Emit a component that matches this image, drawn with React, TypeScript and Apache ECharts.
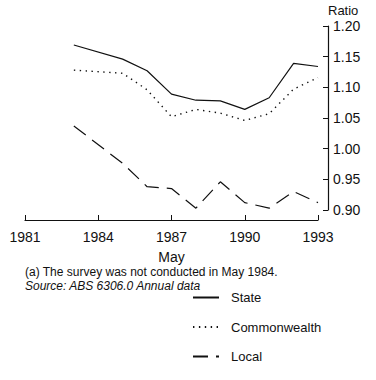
import React, { useEffect, useRef } from "react";
import * as echarts from "echarts";

const years = [1983, 1985, 1986, 1987, 1988, 1989, 1990, 1991, 1992, 1993];
const stateValues = [1.169, 1.146, 1.127, 1.089, 1.079, 1.078, 1.064, 1.083, 1.139, 1.134];
const commonwealthValues = [1.128, 1.123, 1.096, 1.052, 1.064, 1.058, 1.046, 1.057, 1.097, 1.116];
const localValues = [1.037, 0.976, 0.938, 0.935, 0.903, 0.946, 0.912, 0.903, 0.93, 0.912];
const seriesNames = ["State", "Commonwealth", "Local"];
const footnote = "(a) The survey was not conducted in May 1984.";
const sourceNote = "Source: ABS 6306.0 Annual data";

const FONT = "Liberation Sans, Arial, sans-serif";
const INK = "#111";

export default function App() {
  const ref = useRef<HTMLDivElement>(null);
  useEffect(() => {
    if (!ref.current) return;
    const chart = echarts.init(ref.current, undefined, { renderer: "svg" });
    const pairs = (vals: number[]) => years.map((y, i) => [y, vals[i]]);
    chart.setOption({
      animation: false,
      backgroundColor: "#fff",
      textStyle: { fontFamily: FONT, color: INK },
      grid: { left: 25, right: 58, top: 26, bottom: 170 },
      xAxis: {
        type: "value",
        min: 1981,
        max: 1993,
        interval: 3,
        offset: 10,
        name: "May",
        nameLocation: "middle",
        nameGap: 30,
        nameTextStyle: { fontSize: 14, color: INK, fontFamily: FONT },
        axisLine: { show: true, lineStyle: { color: INK, width: 1.2 } },
        axisTick: { show: true, inside: true, length: 5, lineStyle: { color: INK } },
        axisLabel: {
          color: INK,
          fontSize: 14,
          margin: 10,
          fontFamily: FONT,
          formatter: (v: number) => String(v),
        },
        splitLine: { show: false },
      },
      yAxis: {
        type: "value",
        position: "right",
        min: 0.9,
        max: 1.2,
        interval: 0.05,
        offset: 10,
        name: "Ratio",
        nameLocation: "end",
        nameGap: 9,
        nameTextStyle: { fontSize: 13, color: INK, align: "left", fontFamily: FONT },
        axisLine: { show: true, lineStyle: { color: INK, width: 1.2 } },
        axisTick: { show: true, inside: true, length: 5, lineStyle: { color: INK } },
        axisLabel: {
          color: INK,
          fontSize: 14,
          margin: 5,
          fontFamily: FONT,
          formatter: (v: number) => v.toFixed(2),
        },
        splitLine: { show: false },
      },
      legend: {
        orient: "vertical",
        left: 192,
        top: 291,
        padding: 0,
        itemWidth: 26,
        itemHeight: 14,
        itemGap: 16.5,
        itemStyle: { opacity: 0 },
        textStyle: { fontSize: 13, color: INK, fontFamily: FONT, padding: [0, 0, 0, 7] },
        data: seriesNames,
      },
      graphic: [
        {
          type: "text",
          left: 25,
          top: 266,
          style: { text: footnote, font: `12px ${FONT}`, fill: INK },
        },
        {
          type: "text",
          left: 25,
          top: 280,
          style: { text: sourceNote, font: `italic 12px ${FONT}`, fill: INK },
        },
      ],
      series: [
        {
          name: seriesNames[0],
          type: "line",
          data: pairs(stateValues),
          symbol: "none",
          lineStyle: { color: INK, width: 1.2, type: "solid" },
          itemStyle: { color: INK },
        },
        {
          name: seriesNames[1],
          type: "line",
          data: pairs(commonwealthValues),
          symbol: "none",
          lineStyle: { color: INK, width: 1.4, type: [1.4, 4.5] },
          itemStyle: { color: INK },
        },
        {
          name: seriesNames[2],
          type: "line",
          data: pairs(localValues),
          symbol: "none",
          lineStyle: { color: INK, width: 1.2, type: [15, 8] },
          itemStyle: { color: INK },
        },
      ],
    });
    return () => chart.dispose();
  }, []);
  return <div ref={ref} style={{ width: 376, height: 380, position: "absolute", left: 0, top: 0 }} />;
}
